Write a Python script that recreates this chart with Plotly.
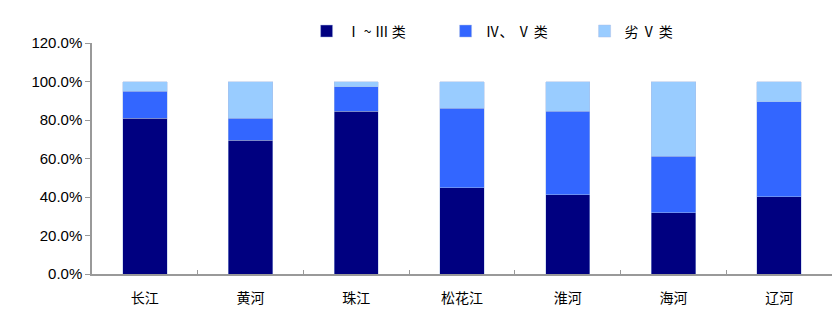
import plotly.graph_objects as go

categories = ["长江", "黄河", "珠江", "松花江", "淮河", "海河", "辽河"]
class_1_3 = [81.0, 69.6, 84.5, 44.7, 41.2, 31.8, 40.2]
class_4_5 = [14.0, 11.3, 12.8, 41.4, 43.3, 29.5, 49.2]
class_worse5 = [5.0, 19.1, 2.7, 13.9, 15.5, 38.7, 10.6]
series_names = ["Ⅰ ~ Ⅲ 类", "Ⅳ、 Ⅴ 类", "劣 Ⅴ 类"]
colors = ["#000080", "#3366FF", "#99CCFF"]
y_ticks = [0, 20, 40, 60, 80, 100, 120]
y_tick_labels = ["0.0%", "20.0%", "40.0%", "60.0%", "80.0%", "100.0%", "120.0%"]

fig = go.Figure()
for name, vals, c in zip(series_names, [class_1_3, class_4_5, class_worse5], colors):
    fig.add_trace(go.Bar(
        x=categories, y=vals, name=name,
        marker=dict(color=c, line=dict(color="rgba(170,190,230,0.8)", width=0.6)),
    ))

fig.update_layout(
    barmode="stack",
    bargap=0.58,
    width=836, height=323,
    margin=dict(l=92, r=4, t=43, b=49, autoexpand=False),
    plot_bgcolor="white", paper_bgcolor="white",
    font=dict(family="Noto Sans CJK SC", color="black", size=14),
    showlegend=True,
    legend=dict(
        orientation="h", x=0.29, xanchor="left", y=1.05, yanchor="middle",
        traceorder="normal",
        entrywidth=94, entrywidthmode="pixels",
        font=dict(family="Noto Sans CJK SC", size=14, color="black"),
        itemwidth=30, tracegroupgap=0,
    ),
)
fig.update_xaxes(
    showline=True, linecolor="#999999", linewidth=1.5,
    ticks="inside", tickson="boundaries", ticklen=4, tickcolor="#999999",
    tickfont=dict(family="Noto Sans CJK SC", size=14, color="black"),
    ticklabelstandoff=10,
    showgrid=False,
)
fig.update_yaxes(
    range=[0, 120], tickvals=y_ticks, ticktext=y_tick_labels,
    showline=True, linecolor="#999999", linewidth=1.5,
    ticks="outside", ticklen=5, tickcolor="#999999",
    tickfont=dict(family="Liberation Sans, Arial", size=15, color="black"),
    showgrid=False, zeroline=False,
)

fig.write_html("out.html")
